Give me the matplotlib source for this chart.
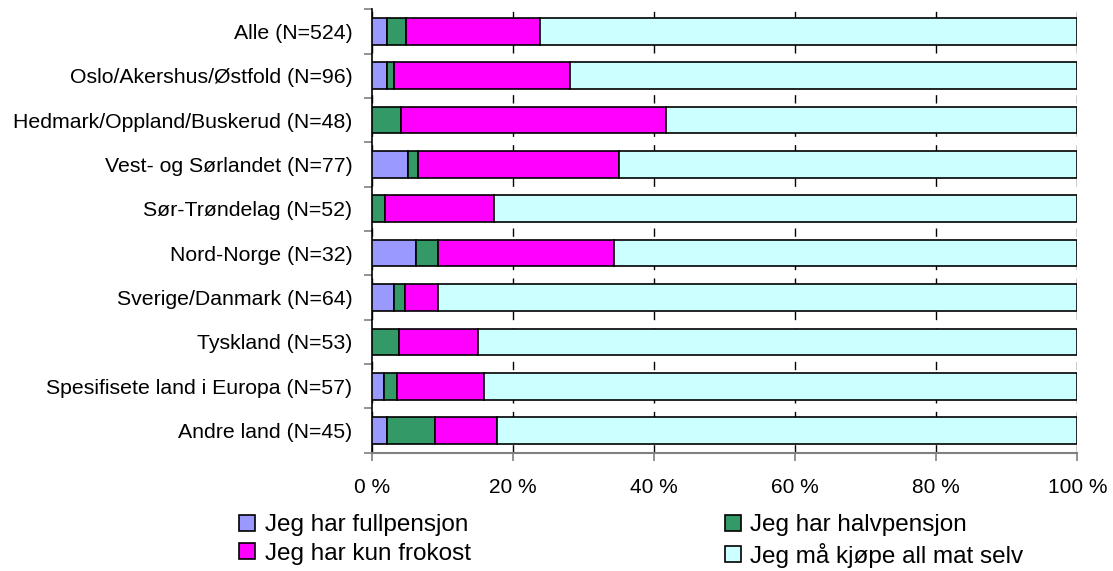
import matplotlib.pyplot as plt
import numpy as np

plt.rcParams['font.family'] = ['Liberation Sans', 'DejaVu Sans']

# kategorier (øverst først)
kategorier = ['Alle (N=524)', 'Oslo/Akershus/Østfold (N=96)', 'Hedmark/Oppland/Buskerud (N=48)',
              'Vest- og Sørlandet (N=77)', 'Sør-Trøndelag (N=52)', 'Nord-Norge (N=32)',
              'Sverige/Danmark (N=64)', 'Tyskland (N=53)', 'Spesifisete land i Europa (N=57)',
              'Andre land (N=45)']

# andeler i prosent
fullpensjon = [2.1, 2.1, 0.0, 5.2, 0.0, 6.3, 3.1, 0.0, 1.8, 2.2]
halvpensjon = [2.7, 1.0, 4.2, 1.3, 1.9, 3.1, 1.6, 3.8, 1.8, 6.7]
kun_frokost = [19.1, 25.0, 37.5, 28.6, 15.4, 25.0, 4.7, 11.3, 12.3, 8.9]
kjope_selv = [76.1, 71.9, 58.3, 64.9, 82.7, 65.6, 90.6, 84.9, 84.1, 82.2]

serier = ['Jeg har fullpensjon', 'Jeg har halvpensjon', 'Jeg har kun frokost', 'Jeg må kjøpe all mat selv']
farger = ['#9999FF', '#339966', '#FF00FF', '#CCFFFF']

fig = plt.figure(figsize=(11.13, 5.71), dpi=100)
ax = fig.add_axes([0.334, 0.207, 0.634, 0.777])

y = np.arange(len(kategorier))
venstre = np.zeros(len(kategorier))
staver = []
for verdier, navn, farge in zip([fullpensjon, halvpensjon, kun_frokost, kjope_selv], serier, farger):
    b = ax.barh(y, verdier, left=venstre, height=0.6, color=farge, edgecolor='black',
                linewidth=1.2, label=navn, zorder=3)
    staver.append(b)
    venstre = venstre + np.array(verdier)

ax.set_ylim(len(kategorier) - 0.5, -0.5)
ax.set_xlim(0, 100)

ax.set_yticks(y)
ax.set_yticklabels(kategorier, fontsize=15.3)
ax.set_yticks(np.arange(-0.5, len(kategorier)), minor=True)
ax.tick_params(axis='y', which='major', length=0, pad=14)
ax.tick_params(axis='y', which='minor', length=6, color='#808080', width=1.2)

ax.set_xticks([0, 20, 40, 60, 80, 100])
ax.set_xticklabels(['0 %', '20 %', '40 %', '60 %', '80 %', '100 %'], fontsize=15)
ax.tick_params(axis='x', length=6, color='#808080', width=1.2, pad=12)

ax.grid(axis='x', color='black', linestyle=(0, (6, 6)), linewidth=1, zorder=0)

for s in ['top', 'right']:
    ax.spines[s].set_visible(False)
ax.spines['left'].set_color('black')
ax.spines['bottom'].set_color('#808080')
ax.spines['left'].set_linewidth(1.2)
ax.spines['bottom'].set_linewidth(1.5)

# legende i to kolonner: rad 1 full/halv, rad 2 frokost/selv
rekkefolge = [0, 2, 1, 3]
fig.legend([staver[i] for i in rekkefolge], [serier[i] for i in rekkefolge],
           ncol=2, loc='upper left', bbox_to_anchor=(0.2147, 0.099), frameon=False,
           fontsize=17.5, handlelength=0.66, handleheight=0.66, handletextpad=0.4,
           columnspacing=10.45, labelspacing=0.26, borderpad=0, borderaxespad=0)

fig.savefig('out.png', dpi=100)
